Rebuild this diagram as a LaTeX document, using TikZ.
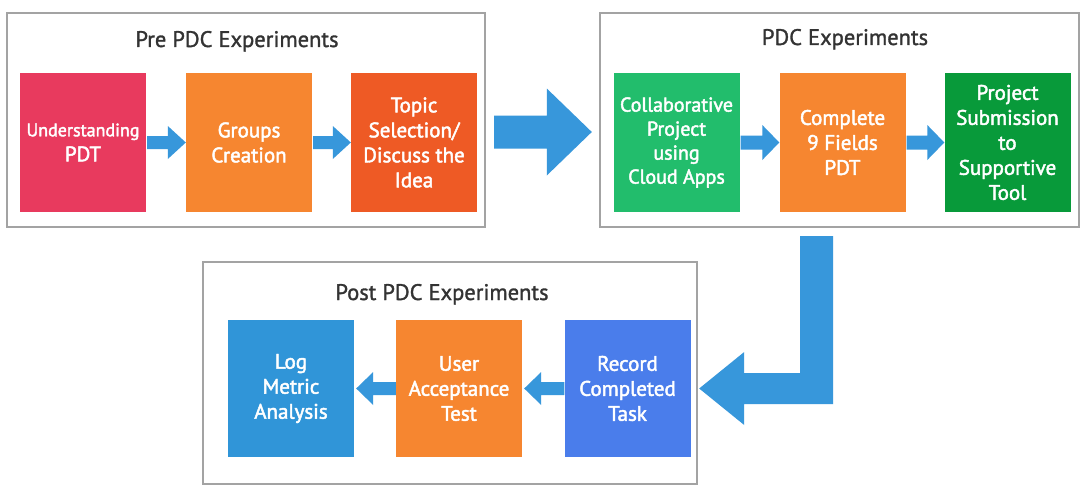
\documentclass[tikz,border=0pt]{standalone}
\usepackage{fontspec}
\setmainfont{PT Sans}[FakeBold=1.3]
\newfontfamily\boxfont{PT Sans}[FakeBold=2.2]
\usetikzlibrary{calc}
\definecolor{frameG}{HTML}{A3A3A3}
\definecolor{titleC}{HTML}{333333}
\definecolor{cPink}{HTML}{E83A5E}
\definecolor{cOrange}{HTML}{F68630}
\definecolor{cRedOr}{HTML}{EE5A25}
\definecolor{cGreen}{HTML}{22BD6C}
\definecolor{cDGreen}{HTML}{089A3A}
\definecolor{cBlue}{HTML}{3095D8}
\definecolor{cRoyal}{HTML}{4A7DEB}
\definecolor{arrowC}{HTML}{3797DB}
\tikzset{
  frame/.style={draw=frameG, line width=2.4pt, fill=white, inner sep=0pt},
  ftitle/.style={text=titleC, font=\fontsize{22.5}{26}\selectfont, anchor=base, inner sep=0pt},
  stepbox/.style={minimum width=126pt, minimum height=138pt, inner sep=0pt, text=white,
    align=center, font=\boxfont\fontsize{21}{25}\selectfont},
  arrowfill/.style={fill=arrowC}
}
% right-pointing block arrow between two nodes: #1 from, #2 to, #3 shaft half, #4 head half, #5 head length
\newcommand{\arrR}[5]{%
  \fill[arrowfill] let \p1=(#1.east), \p2=(#2.west) in
    (\x1+1pt,\y1+#3pt) -- (\x2-#5pt,\y1+#3pt) -- (\x2-#5pt,\y1+#4pt) -- (\x2,\y1)
    -- (\x2-#5pt,\y1-#4pt) -- (\x2-#5pt,\y1-#3pt) -- (\x1+1pt,\y1-#3pt) -- cycle;}
% left-pointing block arrow: #1 from (right), #2 to (left)
\newcommand{\arrL}[5]{%
  \fill[arrowfill] let \p1=(#1.west), \p2=(#2.east) in
    (\x1,\y1+#3pt) -- (\x2+2pt+#5pt,\y1+#3pt) -- (\x2+2pt+#5pt,\y1+#4pt) -- (\x2+2pt,\y1)
    -- (\x2+2pt+#5pt,\y1-#4pt) -- (\x2+2pt+#5pt,\y1-#3pt) -- (\x1,\y1-#3pt) -- cycle;}
\begin{document}
\begin{tikzpicture}[x=1pt,y=-1pt]
\useasboundingbox (0,0) rectangle (1092,495);
\fill[white] (0,0) rectangle (1092,495);

% frames
\node[frame, minimum width=478pt, minimum height=214pt] (pre) at (246,120) {};
\node[frame, minimum width=479pt, minimum height=214pt] (pdc) at (839.5,120) {};
\node[frame, minimum width=494pt, minimum height=222pt] (post) at (450,373) {};

% titles
\node[ftitle] (tpre) at (237,47) {Pre PDC Experiments};
\node[ftitle] (tpdc) at (845,45) {PDC Experiments};
\node[ftitle] (tpost) at (442,300) {Post PDC Experiments};

% pre boxes
\node[stepbox, fill=cPink] (u) at (83,142.5) {{\fontsize{18}{23}\selectfont Understanding}\\PDT};
\node[stepbox, fill=cOrange] (g) at (249,142.5) {Groups\\Creation};
\node[stepbox, fill=cRedOr] (t) at (414,142.5) {Topic\\Selection/\\Discuss the\\Idea};

% pdc boxes
\node[stepbox, fill=cGreen, font=\boxfont\fontsize{20}{24}\selectfont] (c) at (676.5,142.5) {Collaborative\\Project\\using\\Cloud Apps};
\node[stepbox, fill=cOrange] (cp) at (842.5,142.5) {Complete\\9 Fields\\PDT};
\node[stepbox, fill=cDGreen] (ps) at (1007.5,142.5) {Project\\Submission\\to\\Supportive\\Tool};

% post boxes
\node[stepbox, fill=cBlue, minimum height=137pt] (lg) at (291,388.5) {Log\\Metric\\Analysis};
\node[stepbox, fill=cOrange, minimum height=137pt] (ua) at (459,388.5) {User\\Acceptance\\Test};
\node[stepbox, fill=cRoyal, minimum height=137pt] (rc) at (627.5,388.5) {Record\\Completed\\Task};

% small arrows
\arrR{u}{g}{6.5}{16.5}{18}
\arrR{g}{t}{6.5}{16.5}{18}
\arrR{c}{cp}{7}{17.5}{17}
\arrR{cp}{ps}{7}{17.5}{17}
\arrL{rc}{ua}{6.5}{16.5}{17}
\arrL{ua}{lg}{6.5}{16.5}{17}

% big arrow pre -> pdc
\fill[arrowfill] let \p1=(pre.east), \p2=(pdc.west), \p3=(0,132) in
  (\x1+8pt,\y3+16.5pt) -- (\x2-52pt,\y3+16.5pt) -- (\x2-52pt,\y3+43.5pt) -- (\x2-7pt,\y3)
  -- (\x2-52pt,\y3-43.5pt) -- (\x2-52pt,\y3-16.5pt) -- (\x1+8pt,\y3-16.5pt) -- cycle;

% L-shaped arrow pdc -> post
\coordinate (lbar) at (816.5,0);
\fill[arrowfill] let \p1=(pdc.south), \p2=(post.east), \p3=(lbar) in
  (\x3-16.5pt,\y1-8pt) -- (\x3+16.5pt,\y1-8pt) -- (\x3+16.5pt,\y2-31pt)
  -- (\x2+46pt,\y2-31pt) -- (\x2+46pt,\y2-52pt) -- (\x2+1pt,\y2-15.5pt)
  -- (\x2+46pt,\y2+21pt) -- (\x2+46pt,\y2+0pt) -- (\x3-16.5pt,\y2+0pt) -- cycle;
\end{tikzpicture}
\end{document}
